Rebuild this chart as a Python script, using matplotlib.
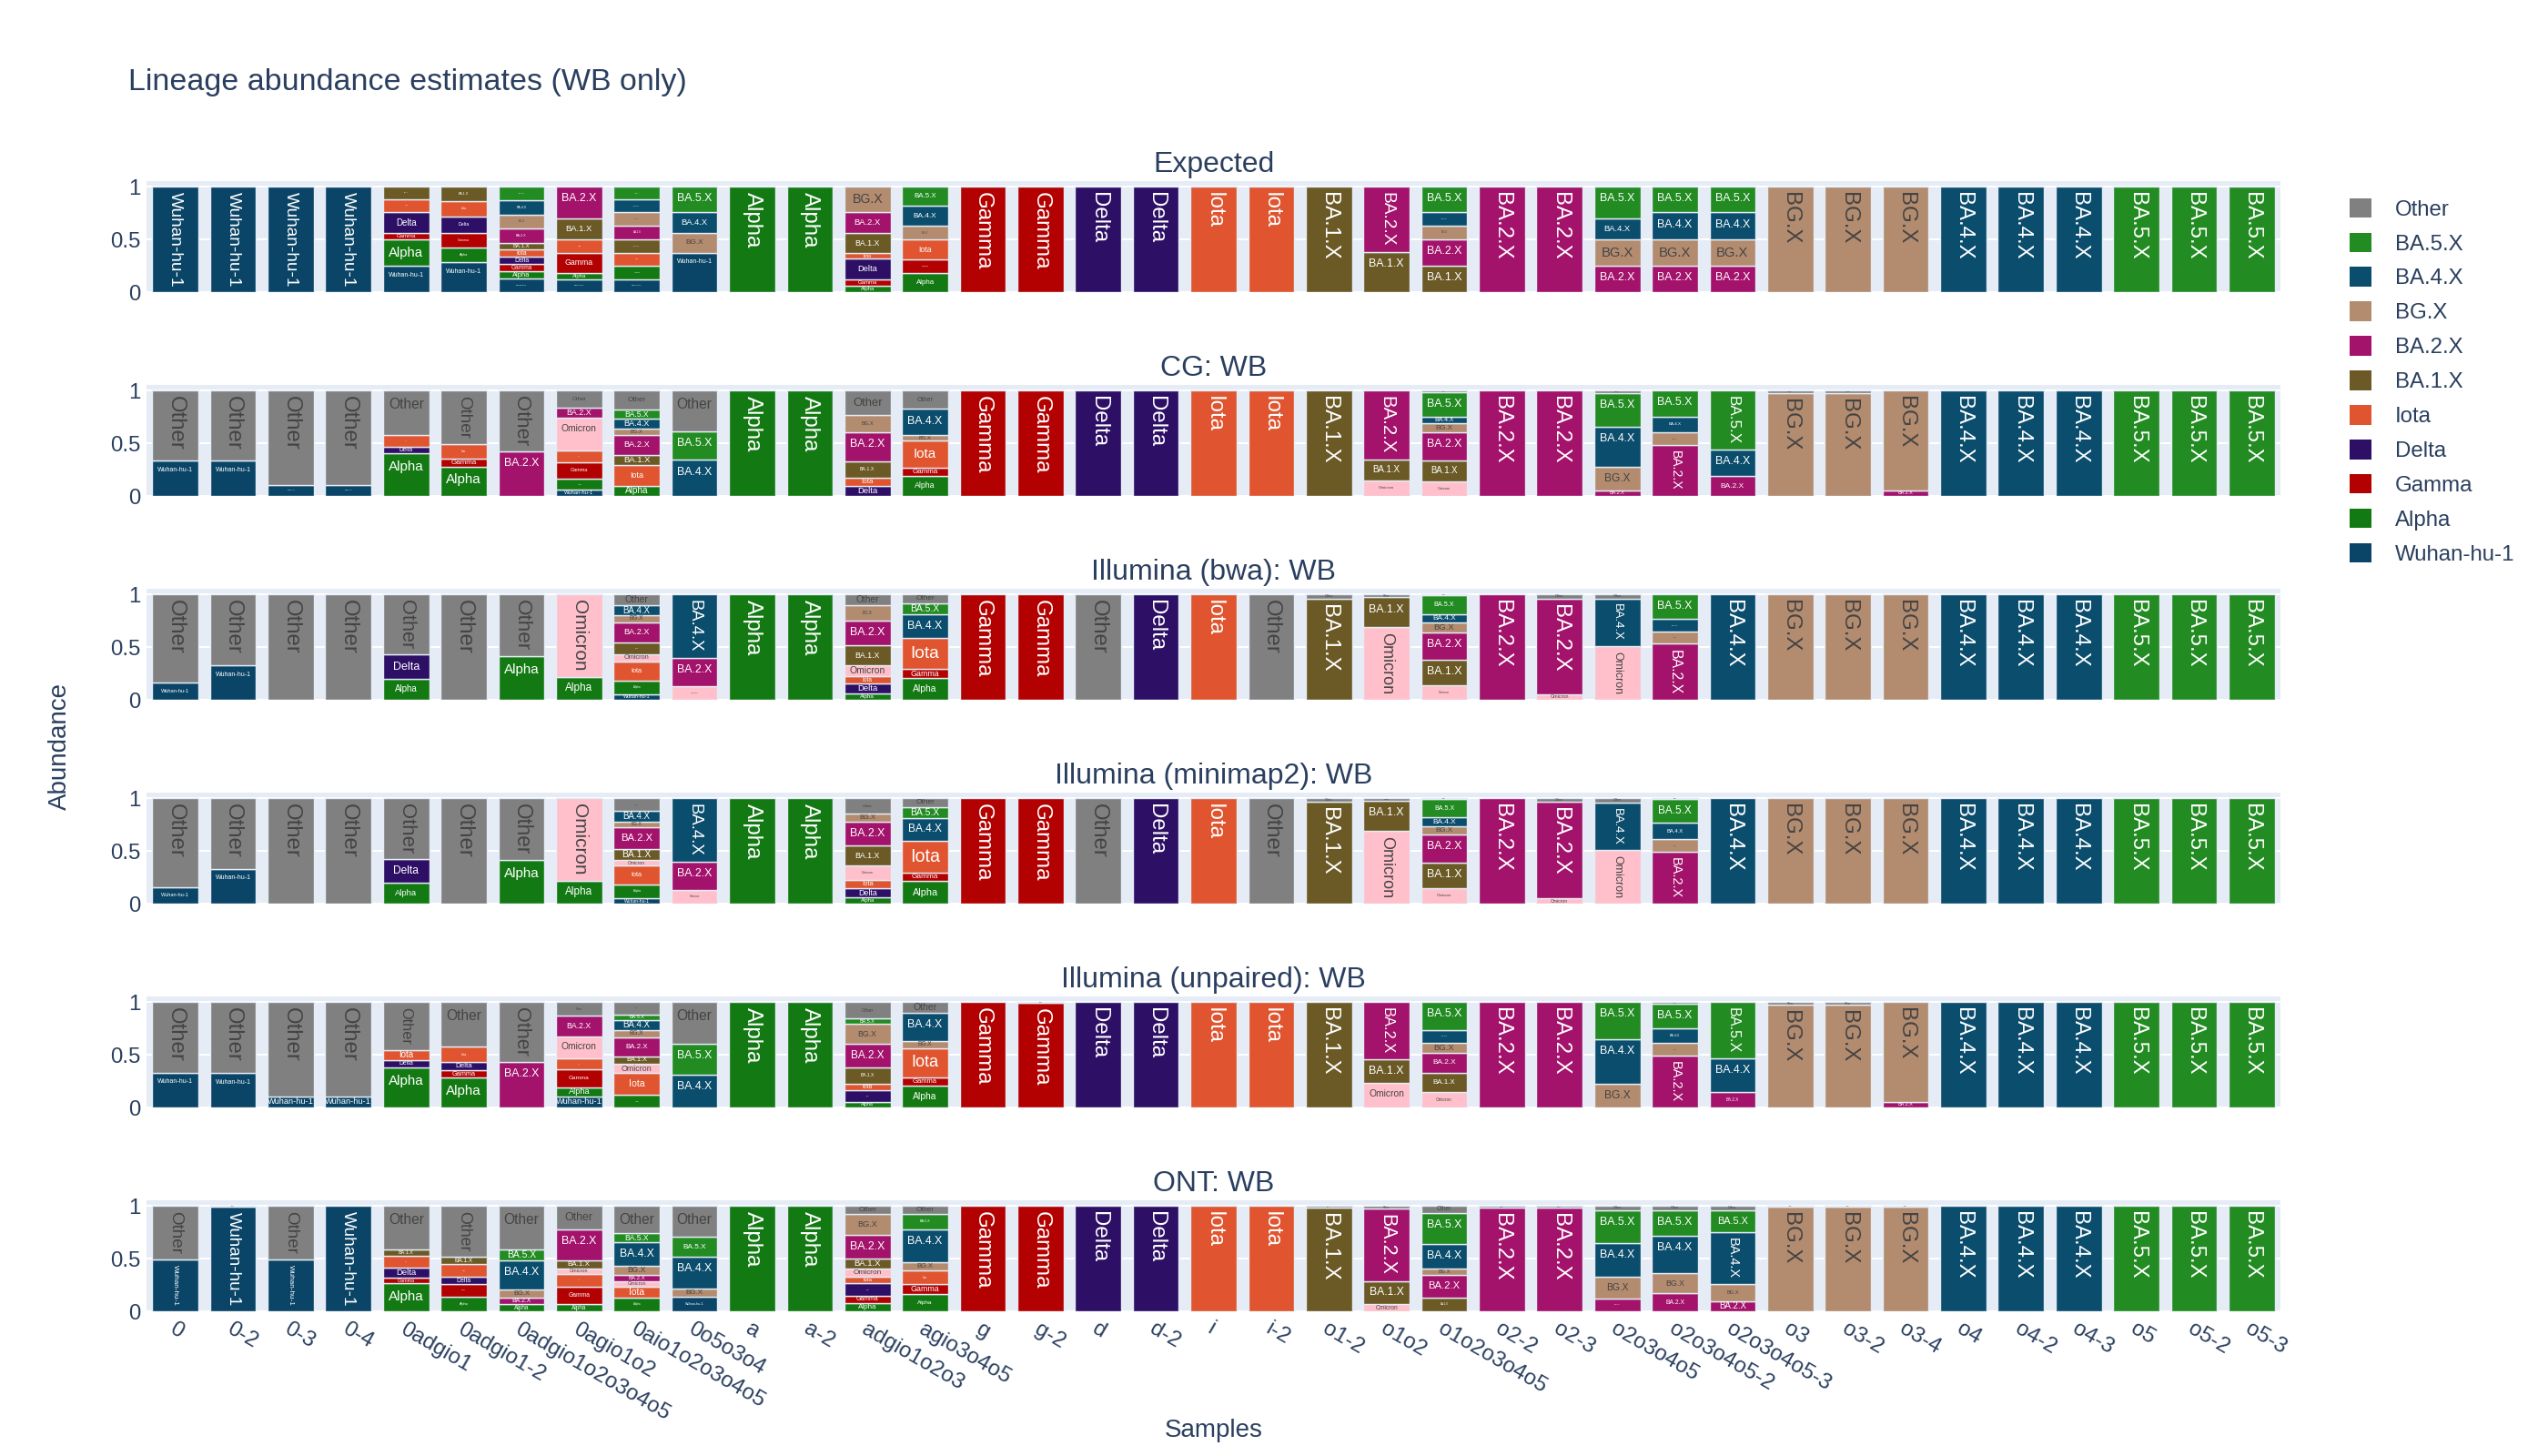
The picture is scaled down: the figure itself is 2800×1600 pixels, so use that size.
import matplotlib
matplotlib.use('Agg')
import matplotlib.pyplot as plt
from matplotlib.font_manager import FontProperties
from matplotlib.patches import Patch
from matplotlib.colors import to_rgb
from matplotlib.transforms import ScaledTranslation

plt.rcParams['font.family'] = ['Liberation Sans', 'DejaVu Sans']

samples = ['0', '0-2', '0-3', '0-4', '0adgio1', '0adgio1-2', '0adgio1o2o3o4o5', '0agio1o2',
           '0aio1o2o3o4o5', '0o5o3o4', 'a', 'a-2', 'adgio1o2o3', 'agio3o4o5', 'g', 'g-2', 'd', 'd-2',
           'i', 'i-2', 'o1-2', 'o1o2', 'o1o2o3o4o5', 'o2-2', 'o2-3', 'o2o3o4o5', 'o2o3o4o5-2',
           'o2o3o4o5-3', 'o3', 'o3-2', 'o3-4', 'o4', 'o4-2', 'o4-3', 'o5', 'o5-2', 'o5-3']

# stacking order, bottom -> top
lineage_keys = ['W', 'A', 'G', 'D', 'I', 'O', 'B1', 'B2', 'BG', 'B4', 'B5', 'X']
lineage_names = ['Wuhan-hu-1', 'Alpha', 'Gamma', 'Delta', 'Iota', 'Omicron', 'BA.1.X', 'BA.2.X',
                 'BG.X', 'BA.4.X', 'BA.5.X', 'Other']
lineage_colors = ['#0a4567', '#137a13', '#b30000', '#2d0f66', '#e0552f', '#ffc0cb', '#6b5a26',
                  '#a3126b', '#b38b6f', '#0b4d6d', '#228b22', '#808080']
legend_keys = ['X', 'B5', 'B4', 'BG', 'B2', 'B1', 'I', 'D', 'G', 'A', 'W']

expected = [
    {'W': 1}, {'W': 1}, {'W': 1}, {'W': 1},
    {'W': .25, 'A': .25, 'G': .059, 'D': .2, 'I': .124, 'B1': .118},
    {'W': .285, 'A': .14, 'G': .14, 'D': .155, 'I': .14, 'B1': .14},
    {'W': .126, 'A': .074, 'G': .065, 'D': .068, 'I': .07, 'B1': .059, 'B2': .141, 'BG': .132, 'B4': .138, 'B5': .126},
    {'W': .124, 'A': .059, 'G': .191, 'I': .126, 'B1': .197, 'B2': .303},
    {'W': .124, 'A': .126, 'I': .124, 'B1': .126, 'B2': .132, 'BG': .124, 'B4': .126, 'B5': .118},
    {'W': .374, 'BG': .185, 'B4': .197, 'B5': .244},
    {'A': 1}, {'A': 1},
    {'A': .059, 'G': .059, 'D': .197, 'I': .053, 'B1': .191, 'B2': .197, 'BG': .244},
    {'A': .182, 'G': .126, 'I': .191, 'BG': .132, 'B4': .185, 'B5': .182},
    {'G': 1}, {'G': 1}, {'D': 1}, {'D': 1}, {'I': 1}, {'I': 1},
    {'B1': 1},
    {'B1': .382, 'B2': .618},
    {'B1': .25, 'B2': .25, 'BG': .132, 'B4': .124, 'B5': .244},
    {'B2': 1}, {'B2': 1},
    {'B2': .25, 'BG': .25, 'B4': .197, 'B5': .303},
    {'B2': .25, 'BG': .25, 'B4': .256, 'B5': .244},
    {'B2': .25, 'BG': .25, 'B4': .256, 'B5': .244},
    {'BG': 1}, {'BG': 1}, {'BG': 1},
    {'B4': 1}, {'B4': 1}, {'B4': 1},
    {'B5': 1}, {'B5': 1}, {'B5': 1},
]

cg_wb = [
    {'W': .333, 'X': .667}, {'W': .333, 'X': .667}, {'W': .105, 'X': .895}, {'W': .105, 'X': .895},
    {'A': .405, 'D': .065, 'I': .11, 'X': .42},
    {'A': .278, 'G': .079, 'I': .132, 'X': .511},
    {'B2': .42, 'X': .58},
    {'W': .058, 'A': .105, 'G': .158, 'I': .108, 'O': .316, 'B2': .088, 'X': .167},
    {'A': .099, 'I': .193, 'B1': .094, 'B2': .196, 'BG': .058, 'B4': .091, 'B5': .085, 'X': .184},
    {'B4': .342, 'B5': .269, 'X': .389},
    {'A': 1}, {'A': 1},
    {'D': .094, 'I': .079, 'B1': .155, 'B2': .278, 'BG': .161, 'X': .233},
    {'A': .19, 'G': .079, 'I': .254, 'BG': .058, 'B4': .244, 'X': .175},
    {'G': 1}, {'G': 1}, {'D': 1}, {'D': 1}, {'I': 1}, {'I': 1},
    {'B1': 1},
    {'O': .148, 'B1': .201, 'B2': .651},
    {'O': .142, 'B1': .198, 'B2': .266, 'BG': .08, 'B4': .068, 'B5': .231, 'X': .015},
    {'B2': 1}, {'B2': 1},
    {'B2': .053, 'BG': .222, 'B4': .381, 'B5': .32, 'X': .024},
    {'B2': .479, 'BG': .127, 'B4': .148, 'B5': .246},
    {'B2': .187, 'B4': .251, 'B5': .562},
    {'BG': .976, 'X': .024}, {'BG': .976, 'X': .024}, {'B2': .053, 'BG': .947},
    {'B4': 1}, {'B4': 1}, {'B4': 1},
    {'B5': 1}, {'B5': 1}, {'B5': 1},
]

bwa_wb = [
    {'W': .161, 'X': .839}, {'W': .326, 'X': .674}, {'X': 1}, {'X': 1},
    {'A': .2, 'D': .228, 'X': .572},
    {'X': 1},
    {'A': .413, 'X': .587},
    {'A': .22, 'O': .78},
    {'W': .053, 'A': .132, 'I': .176, 'O': .073, 'B1': .108, 'B2': .194, 'BG': .065, 'B4': .097, 'X': .102},
    {'O': .126, 'B2': .273, 'B4': .601},
    {'A': 1}, {'A': 1},
    {'A': .062, 'D': .094, 'I': .065, 'O': .103, 'B1': .19, 'B2': .235, 'BG': .15, 'X': .101},
    {'A': .205, 'G': .088, 'I': .293, 'B4': .229, 'B5': .103, 'X': .082},
    {'G': 1}, {'G': 1}, {'X': 1}, {'D': 1}, {'I': 1}, {'X': 1},
    {'B1': .962, 'X': .038},
    {'O': .689, 'B1': .282, 'X': .029},
    {'O': .135, 'B1': .246, 'B2': .258, 'BG': .094, 'B4': .082, 'B5': .176, 'X': .009},
    {'B2': 1},
    {'O': .053, 'B2': .909, 'X': .038},
    {'O': .507, 'B4': .455, 'X': .038},
    {'B2': .531, 'BG': .114, 'B4': .126, 'B5': .229},
    {'B4': 1},
    {'BG': 1}, {'BG': 1}, {'BG': 1},
    {'B4': 1}, {'B4': 1}, {'B4': 1},
    {'B5': 1}, {'B5': 1}, {'B5': 1},
]

minimap2_wb = [
    {'W': .159, 'X': .841}, {'W': .33, 'X': .67}, {'X': 1}, {'X': 1},
    {'A': .197, 'D': .223, 'X': .58},
    {'X': 1},
    {'A': .412, 'X': .588},
    {'A': .22, 'O': .78},
    {'W': .05, 'A': .135, 'I': .176, 'O': .05, 'B1': .103, 'B2': .215, 'BG': .05, 'B4': .097, 'X': .124},
    {'O': .132, 'B2': .265, 'B4': .603},
    {'A': 1}, {'A': 1},
    {'A': .059, 'D': .088, 'I': .074, 'O': .138, 'B1': .191, 'B2': .229, 'BG': .074, 'X': .147},
    {'A': .212, 'G': .082, 'I': .3, 'B4': .221, 'B5': .103, 'X': .082},
    {'G': 1}, {'G': 1}, {'X': 1}, {'D': 1}, {'I': 1}, {'X': 1},
    {'B1': .965, 'X': .035},
    {'O': .691, 'B1': .285, 'X': .024},
    {'O': .147, 'B1': .244, 'B2': .265, 'BG': .079, 'B4': .082, 'B5': .174, 'X': .009},
    {'B2': 1},
    {'O': .05, 'B2': .915, 'X': .035},
    {'O': .506, 'B4': .456, 'X': .038},
    {'B2': .494, 'BG': .115, 'B4': .162, 'B5': .22, 'X': .009},
    {'B4': 1},
    {'BG': 1}, {'BG': 1}, {'BG': 1},
    {'B4': 1}, {'B4': 1}, {'B4': 1},
    {'B5': 1}, {'B5': 1}, {'B5': 1},
]

unpaired_wb = [
    {'W': .331, 'X': .669}, {'W': .325, 'X': .675}, {'W': .103, 'X': .897}, {'W': .103, 'X': .897},
    {'A': .381, 'D': .067, 'I': .097, 'X': .455},
    {'A': .282, 'G': .073, 'D': .079, 'I': .141, 'X': .425},
    {'B2': .43, 'X': .57},
    {'W': .103, 'A': .091, 'G': .167, 'I': .108, 'O': .208, 'B2': .191, 'X': .132},
    {'A': .117, 'I': .208, 'O': .088, 'B1': .073, 'B2': .182, 'BG': .065, 'B4': .097, 'B5': .053, 'X': .117},
    {'B4': .311, 'B5': .293, 'X': .396},
    {'A': 1}, {'A': 1},
    {'A': .053, 'D': .108, 'I': .067, 'B1': .152, 'B2': .22, 'BG': .191, 'B5': .053, 'X': .156},
    {'A': .205, 'G': .076, 'I': .284, 'BG': .065, 'B4': .267, 'X': .103},
    {'G': 1}, {'G': .99, 'X': .01}, {'D': 1}, {'D': 1}, {'I': 1}, {'I': 1},
    {'B1': 1},
    {'O': .229, 'B1': .226, 'B2': .545},
    {'O': .15, 'B1': .182, 'B2': .185, 'BG': .094, 'B4': .126, 'B5': .263},
    {'B2': 1}, {'B2': 1},
    {'BG': .223, 'B4': .422, 'B5': .355},
    {'B2': .493, 'BG': .117, 'B4': .138, 'B5': .237, 'X': .015},
    {'B2': .15, 'B4': .314, 'B5': .536},
    {'BG': .971, 'X': .029}, {'BG': .971, 'X': .029}, {'B2': .053, 'BG': .947},
    {'B4': 1}, {'B4': 1}, {'B4': 1},
    {'B5': 1}, {'B5': 1}, {'B5': 1},
]

ont_wb = [
    {'W': .491, 'X': .509}, {'W': .99, 'X': .01}, {'W': .491, 'X': .509}, {'W': 1},
    {'A': .265, 'G': .053, 'D': .094, 'I': .118, 'B1': .053, 'X': .417},
    {'A': .141, 'G': .115, 'D': .068, 'I': .126, 'B1': .065, 'X': .485},
    {'A': .065, 'B2': .068, 'BG': .074, 'B4': .274, 'B5': .103, 'X': .416},
    {'A': .065, 'G': .171, 'I': .118, 'O': .053, 'B1': .079, 'B2': .288, 'X': .226},
    {'A': .132, 'I': .103, 'O': .053, 'B2': .059, 'BG': .085, 'B4': .224, 'B5': .085, 'X': .259},
    {'W': .141, 'BG': .079, 'B4': .3, 'B5': .185, 'X': .295},
    {'A': 1}, {'A': 1},
    {'A': .079, 'G': .068, 'D': .118, 'I': .059, 'O': .082, 'B1': .094, 'B2': .226, 'BG': .194, 'X': .08},
    {'A': .168, 'G': .088, 'I': .132, 'BG': .074, 'B4': .318, 'B5': .141, 'X': .079},
    {'G': 1}, {'G': 1}, {'D': 1}, {'D': 1}, {'I': 1}, {'I': 1},
    {'B1': .985, 'X': .015},
    {'O': .065, 'B1': .224, 'B2': .682, 'X': .029},
    {'B1': .132, 'B2': .215, 'BG': .056, 'B4': .238, 'B5': .294, 'X': .065},
    {'B2': .98, 'X': .02}, {'B2': .98, 'X': .02},
    {'B2': .124, 'BG': .206, 'B4': .318, 'B5': .314, 'X': .038},
    {'B2': .171, 'BG': .191, 'B4': .353, 'B5': .247, 'X': .038},
    {'B2': .097, 'BG': .159, 'B4': .494, 'B5': .212, 'X': .038},
    {'BG': .995, 'X': .005}, {'BG': .995, 'X': .005}, {'BG': .995, 'X': .005},
    {'B4': 1}, {'B4': 1}, {'B4': 1},
    {'B5': 1}, {'B5': 1}, {'B5': 1},
]

panel_titles = ['Expected', 'CG: WB', 'Illumina (bwa): WB', 'Illumina (minimap2): WB',
                'Illumina (unpaired): WB', 'ONT: WB']
panel_data = [expected, cg_wb, bwa_wb, minimap2_wb, unpaired_wb, ont_wb]

TXT = '#2a3f5f'
BG = '#E5ECF6'
W_PX, H_PX = 2800, 1600
AX_LEFT, AX_WIDTH = 161, 2345
AX_H, AX_STEP, FIRST_BOTTOM = 122, 224, 321
YMAX = 1.0526
BAR_W = 0.8
MAXFS = 24.0   # px, bar text size before shrinking
PAD = 6.0      # px

fig = plt.figure(figsize=(28, 16), dpi=100)
renderer = fig.canvas.get_renderer()
base_prop = FontProperties(family=['Liberation Sans', 'DejaVu Sans'], size=MAXFS * 0.72)

fig.text(141 / W_PX, 1 - 90 / H_PX, 'Lineage abundance estimates (WB only)',
         fontsize=24.5, color=TXT, va='center', ha='left')


def text_color(c):
    r, g, b = to_rgb(c)
    bright = (r * 299 + g * 587 + b * 114) / 1000 * 255
    return 'white' if bright < 128 else '#444444'


def fit_inside(tw, th, lx, ly):
    # plotly-like 'auto' orientation: rotate when it does not fit and the slot is tall
    rot = 0
    if not (tw <= lx and th <= ly):
        if (tw <= ly and th <= lx) or (lx < ly):
            rot = -90
    if rot == 0:
        sc = min(1.0, lx / tw, ly / th)
    else:
        sc = min(1.0, lx / th, ly / tw)
    return rot, max(sc, 0.0)


px_per_cat = AX_WIDTH / len(samples)
bar_px = BAR_W * px_per_cat
data_per_px = YMAX / AX_H
xs = list(range(len(samples)))

for k, (title, data) in enumerate(zip(panel_titles, panel_data)):
    bottom_px = FIRST_BOTTOM + AX_STEP * k
    ax = fig.add_axes([AX_LEFT / W_PX, 1 - bottom_px / H_PX, AX_WIDTH / W_PX, AX_H / H_PX])
    ax.set_facecolor(BG)
    ax.set_xlim(-0.5, len(samples) - 0.5)
    ax.set_ylim(0, YMAX)
    for s in ax.spines.values():
        s.set_visible(False)
    ax.set_yticks([0, 0.5, 1])
    ax.set_yticklabels(['0', '0.5', '1'])
    ax.yaxis.grid(True, color='white', lw=1.5)
    ax.set_axisbelow(True)
    ax.tick_params(axis='y', length=0, pad=5, labelsize=17.3, labelcolor=TXT)
    ax.tick_params(axis='x', length=0)
    ax.set_xticks(xs)
    if k < len(panel_titles) - 1:
        ax.set_xticklabels([])
    else:
        ax.set_xticklabels(samples, rotation=-30, ha='left', va='center', rotation_mode='anchor',
                           fontsize=17.3, color=TXT)
        ax.tick_params(axis='x', pad=13)
        for lbl in ax.get_xticklabels():
            lbl.set_transform(lbl.get_transform() + ScaledTranslation(-0.05, 0, fig.dpi_scale_trans))

    fig.text((AX_LEFT + AX_WIDTH / 2) / W_PX, 1 - (bottom_px - AX_H - 18) / H_PX, title,
             fontsize=23, color=TXT, ha='center', va='center')

    bottoms = [0.0] * len(samples)
    for key, name, color in zip(lineage_keys, lineage_names, lineage_colors):
        vals = [d.get(key, 0) for d in data]
        idx = [i for i, v in enumerate(vals) if v > 0]
        if not idx:
            continue
        ax.bar([xs[i] for i in idx], [vals[i] for i in idx], bottom=[bottoms[i] for i in idx],
               width=BAR_W, color=color, edgecolor=BG, linewidth=1.0, zorder=2)
        tw = renderer.get_text_width_height_descent(name, base_prop, ismath=False)[0]
        th = 1.15 * MAXFS
        tc = text_color(color)
        for i in idx:
            seg_px = vals[i] / data_per_px
            pad = PAD if (bar_px > 2 * PAD and seg_px > 2 * PAD) else 0
            rot, sc = fit_inside(tw, th, bar_px - 2 * pad, seg_px - 2 * pad)
            if sc <= 0:
                continue
            ext = (th if rot == 0 else tw) * sc
            top = bottoms[i] + vals[i]
            yc = top - (pad + ext / 2) * data_per_px
            ax.text(xs[i], yc, name, rotation=rot, rotation_mode='anchor', ha='center',
                    va='center', fontsize=MAXFS * sc * 0.72, color=tc, zorder=3)
        for i in idx:
            bottoms[i] += vals[i]

fig.text(66 / W_PX, 1 - 820 / H_PX, 'Abundance', rotation=90, fontsize=20, color=TXT,
         ha='center', va='center')
fig.text((AX_LEFT + AX_WIDTH / 2) / W_PX, 1 - 1572 / H_PX, 'Samples', fontsize=20, color=TXT,
         ha='center', va='center')

handles = [Patch(facecolor=lineage_colors[lineage_keys.index(k)], edgecolor='none')
           for k in legend_keys]
labels = [lineage_names[lineage_keys.index(k)] for k in legend_keys]
fig.legend(handles, labels, loc='upper left', bbox_to_anchor=(2572 / W_PX, 1 - 208 / H_PX),
           frameon=False, fontsize=17.3, labelcolor=TXT, handlelength=1.0, handleheight=1.0,
           handletextpad=1.1, labelspacing=0.58, borderaxespad=0)

fig.savefig('out.png', dpi=100, facecolor='white')
